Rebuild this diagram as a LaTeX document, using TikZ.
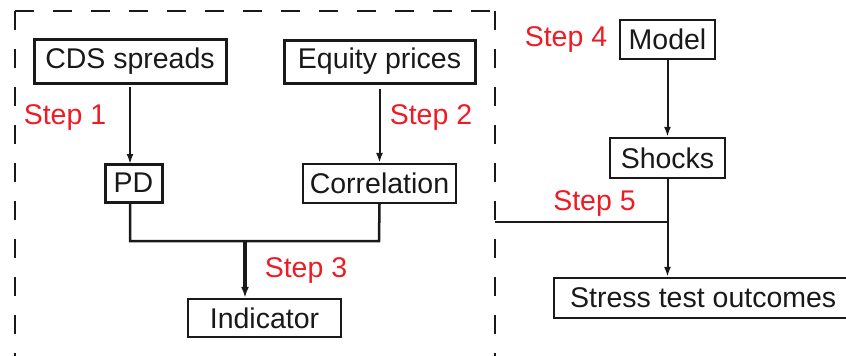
\documentclass[tikz,border=0pt]{standalone}
\usepackage{fontspec}
\setmainfont{Liberation Sans}
\usetikzlibrary{arrows.meta}
\begin{document}
\begin{tikzpicture}[x=1pt,y=-1pt,
  every node/.style={font=\fontsize{28.5}{32}\selectfont, text=black!90},
  box/.style={draw=black!90, line width=2.3pt, inner sep=0pt, anchor=center},
  thickbox/.style={box, line width=3pt},
  steplabel/.style={text={rgb,255:red,237;green,28;blue,36}, inner sep=0pt},
  arr/.style={draw=black!90, line width=2pt, -{Latex[length=10pt,width=7pt]}},
  conn/.style={draw=black!90, line width=2.5pt},
  frame/.style={draw=black!90, line width=2.3pt, dash pattern=on 19pt off 19pt}]
\useasboundingbox (0,0) rectangle (846,356);
% dashed frame
\draw[frame] (15,11) -- (15,360);
\draw[frame] (15,11) -- (495,11);
\draw[frame] (495,11) -- (495,360);
% nodes
\node[thickbox, minimum width=192pt, minimum height=44pt] (cds) at (130,61) {CDS spreads};
\node[thickbox, minimum width=191pt, minimum height=43pt] (eq) at (379.5,61.5) {Equity prices};
\node[thickbox, minimum width=57pt, minimum height=38pt] (pd) at (133.5,183) {PD};
\node[box, minimum width=153pt, minimum height=39pt] (corr) at (379.5,183.5) {Correlation};
\node[box, minimum width=153pt, minimum height=38pt] (ind) at (264.5,318) {Indicator};
\node[box, minimum width=95pt, minimum height=39pt] (model) at (667.5,39.5) {Model};
\node[box, minimum width=115pt, minimum height=40pt] (shocks) at (667.5,158) {Shocks};
\node[box, minimum height=40pt, anchor=west] (stress) at (553,298) {\makebox[302pt][l]{\hspace*{16pt}Stress test outcomes}};
% step labels
\node[steplabel] (s1) at (65,118) {Step 1};
\node[steplabel] (s2) at (431,118) {Step 2};
\node[steplabel] (s3) at (306,271) {Step 3};
\node[steplabel] (s4) at (566,40) {Step 4};
\node[steplabel] (s5) at (594.5,204) {Step 5};
% coordinates
\coordinate (pdb) at (130,202);
\coordinate (jl) at (130,241);
\coordinate (jr) at (379,241);
\coordinate (jm) at (245,241);
\coordinate (fr) at (495,222);
\coordinate (jj) at (667.5,222);
% connectors
\draw[arr, shorten <=4pt] (130,83) -- (130,164);
\draw[arr, shorten <=4pt] (eq.south) -- (eq.south |- corr.north);
\draw[conn] (pdb) -- (jl) -- (jr) -- (corr.south);
\draw[arr, line width=3.2pt, -{Latex[length=11pt,width=8pt]}] (jm) -- (jm |- ind.north);
\draw[arr] (model.south) -- (shocks.north);
\draw[conn] (fr) -- (jj);
\draw[arr] (shocks.south) -- (shocks.south |- stress.north);
\end{tikzpicture}
\end{document}
